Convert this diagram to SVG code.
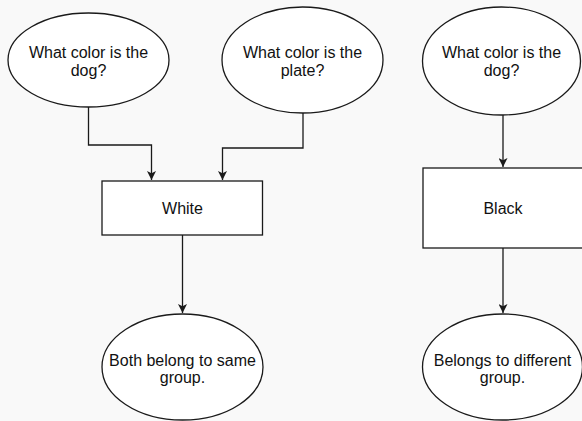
<svg xmlns="http://www.w3.org/2000/svg" width="582" height="421" viewBox="0 0 582 421">
  <style>
    .shape { fill: #ffffff; stroke: #1a1a1a; stroke-width: 1.3; }
    .edge { fill: none; stroke: #1a1a1a; stroke-width: 1.3; }
    .label { font-family: "Liberation Sans", Arial, sans-serif; font-size: 16px; fill: #111111; text-anchor: middle; }
  </style>
  <defs>
    <marker id="arrow" viewBox="0 0 10 10" refX="10" refY="5" markerWidth="9" markerHeight="9" markerUnits="userSpaceOnUse" orient="auto">
      <path d="M0,0 L10,5 L0,10 L2.5,5 Z" fill="#1a1a1a"/>
    </marker>
  </defs>
  <rect width="582" height="421" fill="#f9f9f9"/>

  <g id="connectors">
    <path class="edge" d="M88.5,107 V145 H151.5 V180" marker-end="url(#arrow)"/>
    <path class="edge" d="M303,113 V148 H222.5 V180" marker-end="url(#arrow)"/>
    <path class="edge" d="M182.5,235 V313" marker-end="url(#arrow)"/>
    <path class="edge" d="M503,115 V167" marker-end="url(#arrow)"/>
    <path class="edge" d="M503,248 V313" marker-end="url(#arrow)"/>
  </g>

  <g id="dog-question-left">
    <ellipse class="shape" cx="88.5" cy="60" rx="80.5" ry="47"/>
    <text class="label" x="88.5" y="58.3">What color is the</text>
    <text class="label" x="88.5" y="75.7">dog?</text>
  </g>

  <g id="plate-question">
    <ellipse class="shape" cx="302.5" cy="60" rx="80.5" ry="53"/>
    <text class="label" x="302.5" y="58.3">What color is the</text>
    <text class="label" x="302.5" y="75.7">plate?</text>
  </g>

  <g id="dog-question-right">
    <ellipse class="shape" cx="501.5" cy="61" rx="79" ry="54"/>
    <text class="label" x="501.5" y="58.3">What color is the</text>
    <text class="label" x="501.5" y="75.7">dog?</text>
  </g>

  <g id="white">
    <rect class="shape" x="102" y="181" width="160.5" height="54"/>
    <text class="label" x="182.5" y="213.5">White</text>
  </g>

  <g id="black">
    <rect class="shape" x="423" y="168" width="162" height="80"/>
    <text class="label" x="503" y="213.5">Black</text>
  </g>

  <g id="same-group">
    <ellipse class="shape" cx="182.5" cy="367" rx="80.5" ry="53"/>
    <text class="label" x="182.5" y="365.7">Both belong to same</text>
    <text class="label" x="182.5" y="383">group.</text>
  </g>

  <g id="different-group">
    <ellipse class="shape" cx="502.5" cy="367" rx="80" ry="53"/>
    <text class="label" x="502.5" y="365.7">Belongs to different</text>
    <text class="label" x="502.5" y="383">group.</text>
  </g>
</svg>
